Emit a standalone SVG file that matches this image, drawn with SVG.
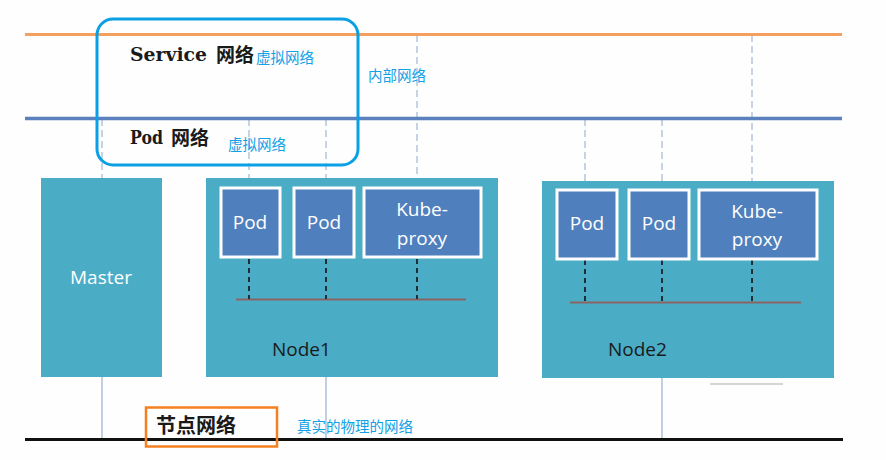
<svg xmlns="http://www.w3.org/2000/svg" width="886" height="460" viewBox="0 0 886 460">
<style>
.net{fill:none;stroke-linecap:butt}
.vdash{stroke:#a9bcd6;stroke-width:1.3;stroke-dasharray:7 4;fill:none}
.vsolid{stroke:#9fb6d6;stroke-width:1.3;fill:none}
.bdash{stroke:#111;stroke-width:1.6;stroke-dasharray:5 4;fill:none}
.bus{stroke:#8a6464;stroke-width:2;fill:none}
.box{fill:#4bacc6}
.pod{fill:#4f7fbd;stroke:#ffffff;stroke-width:3}
.wt{font-family:"Open Sans","Noto Sans",sans-serif;font-size:19px;fill:#ffffff;text-anchor:middle}
.nt{font-family:"Open Sans","Noto Sans",sans-serif;font-size:19px;fill:#1a1a1a}
.hd{font-family:"DejaVu Serif","Noto Sans CJK SC",serif;font-weight:bold;font-size:18px;fill:#1a1a1a}
.cn{font-family:"Noto Sans CJK SC",sans-serif;font-weight:bold;fill:#1a1a1a}
.bl{font-family:"Noto Sans CJK SC",sans-serif;font-size:14.5px;fill:#12a0e6}
</style>
<rect width="886" height="460" fill="#fefefe"/>
<g id="connectors">
  <line class="vdash" x1="102" y1="119" x2="102" y2="178"/>
  <line class="vdash" x1="249" y1="119" x2="249" y2="187"/>
  <line class="vdash" x1="326" y1="119" x2="326" y2="187"/>
  <line class="vdash" x1="417" y1="35" x2="417" y2="187"/>
  <line class="vdash" x1="585" y1="119" x2="585" y2="189"/>
  <line class="vdash" x1="662" y1="119" x2="662" y2="189"/>
  <line class="vdash" x1="752" y1="35" x2="752" y2="189"/>
  <line class="vsolid" x1="102" y1="377" x2="102" y2="439"/>
  <line class="vsolid" x1="326" y1="377" x2="326" y2="439"/>
  <line class="vsolid" x1="662" y1="378" x2="662" y2="439"/>
</g>
<g id="service-network">
  <line class="net" x1="25" y1="34.5" x2="842" y2="34.5" stroke="#f4a060" stroke-width="3"/>
  <text class="hd" x="130" y="61" textLength="77" lengthAdjust="spacingAndGlyphs">Service</text>
  <text class="cn" x="216" y="62" font-size="19">网络</text>
  <text class="bl" x="256" y="63">虚拟网络</text>
</g>
<g id="pod-network">
  <line class="net" x1="25" y1="118.5" x2="842" y2="118.5" stroke="#5a80bd" stroke-width="3.5"/>
  <text class="hd" x="130" y="144" textLength="33" lengthAdjust="spacingAndGlyphs">Pod</text>
  <text class="cn" x="171" y="145" font-size="19">网络</text>
  <text class="bl" x="228" y="150">虚拟网络</text>
</g>
<g id="internal-network">
  <rect x="97" y="19" width="261" height="146" rx="16" fill="none" stroke="#0aa0e3" stroke-width="3"/>
  <text class="bl" x="368" y="81" font-size="15">内部网络</text>
</g>
<g id="master">
  <rect class="box" x="41" y="178" width="121" height="199"/>
  <text class="wt" x="101" y="284" font-size="20">Master</text>
</g>
<g id="node1">
  <rect class="box" x="206" y="178" width="292" height="199"/>
  <line class="bus" x1="236" y1="299.5" x2="466" y2="299.5"/>
  <line class="bdash" x1="249" y1="259" x2="249" y2="299"/>
  <line class="bdash" x1="326" y1="259" x2="326" y2="299"/>
  <line class="bdash" x1="417" y1="259" x2="417" y2="299"/>
  <text class="nt" x="272" y="356">Node1</text>
</g>
<g id="node1-pod1">
  <rect class="pod" x="221" y="188" width="59" height="69"/>
  <text class="wt" x="250" y="229">Pod</text>
</g>
<g id="node1-pod2">
  <rect class="pod" x="294" y="188" width="60" height="69"/>
  <text class="wt" x="324" y="229">Pod</text>
</g>
<g id="node1-kubeproxy">
  <rect class="pod" x="364" y="188" width="117" height="69"/>
  <text class="wt" x="422" y="216">Kube-</text>
  <text class="wt" x="422" y="245">proxy</text>
</g>
<g id="node2">
  <rect class="box" x="542" y="181" width="292" height="197"/>
  <line class="bus" x1="570" y1="302.5" x2="801" y2="302.5"/>
  <line class="bdash" x1="585" y1="260" x2="585" y2="302"/>
  <line class="bdash" x1="662" y1="260" x2="662" y2="302"/>
  <line class="bdash" x1="752" y1="260" x2="752" y2="302"/>
  <text class="nt" x="608" y="356">Node2</text>
  <line x1="710" y1="384" x2="783" y2="384" stroke="#d6d6d6" stroke-width="2"/>
</g>
<g id="node2-pod1">
  <rect class="pod" x="557" y="190" width="60" height="69"/>
  <text class="wt" x="587" y="230">Pod</text>
</g>
<g id="node2-pod2">
  <rect class="pod" x="629" y="190" width="60" height="69"/>
  <text class="wt" x="659" y="230">Pod</text>
</g>
<g id="node2-kubeproxy">
  <rect class="pod" x="699" y="190" width="118" height="69"/>
  <text class="wt" x="757" y="218">Kube-</text>
  <text class="wt" x="757" y="246">proxy</text>
</g>
<g id="node-network">
  <line class="net" x1="25" y1="439.5" x2="843" y2="439.5" stroke="#111" stroke-width="3"/>
  <rect x="146" y="407.5" width="131" height="39" fill="none" stroke="#f5801f" stroke-width="2.5"/>
  <text class="cn" x="156" y="433" font-size="20">节点网络</text>
  <text class="bl" x="297" y="432" font-size="15">真实的物理的网络</text>
</g>
</svg>
